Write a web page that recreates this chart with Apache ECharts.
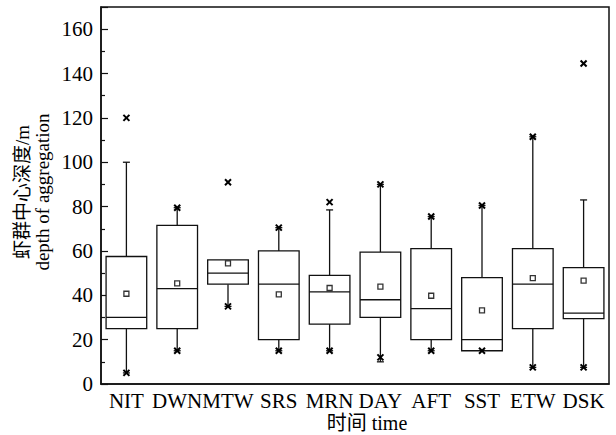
<!DOCTYPE html>
<html>
<head>
<meta charset="utf-8">
<script src="https://cdn.jsdelivr.net/npm/echarts@6/dist/echarts.min.js"></script>
<style>
html,body{margin:0;padding:0;background:#fff;}
#chart{width:616px;height:435px;}
</style>
</head>
<body>
<div id="chart"></div>
<script>
const categories = ['NIT', 'DWN', 'MTW', 'SRS', 'MRN', 'DAY', 'AFT', 'SST', 'ETW', 'DSK'];
const whiskerLow  = [5, 15, 35, 15, 15, 10, 15, 15, 7.5, 7.5];
const q1          = [25, 25, 45, 20, 27, 30, 20, 15, 25, 29.5];
const median      = [30, 43, 50, 45, 41.5, 38, 34, 20, 45, 32];
const q3          = [57.5, 71.5, 56, 60, 49, 59.5, 61, 48, 61, 52.5];
const whiskerHigh = [100, 79.5, 56, 70.5, 78.5, 90, 75.5, 80.5, 111.5, 83];
const meanValues  = [40.7, 45.4, 54.4, 40.4, 43.3, 43.9, 39.8, 33.2, 47.7, 46.6];
const extremeLow  = [5, 15, 35, 15, 15, 12, 15, 15, 7.5, 7.5];
const extremeHigh = [120, 79.5, 91, 70.5, 82, 90, 75.5, 80.5, 111.5, 144.5];
const yTicks = {min: 0, max: 170, interval: 20};

const FONT = "Liberation Serif, Noto Sans CJK SC, serif";

const boxData = categories.map((c, i) => [i, whiskerLow[i], q1[i], median[i], q3[i], whiskerHigh[i]]);
const meanData = categories.map((c, i) => [i, meanValues[i]]);
const extremeData = [];
categories.forEach((c, i) => { extremeData.push([i, extremeLow[i]]); extremeData.push([i, extremeHigh[i]]); });

const chart = echarts.init(document.getElementById('chart'), null, {renderer: 'svg'});
const LW = 1.3;
const CAP = 3.5;

function renderBox(params, api) {
  const i = api.value(0);
  const lo = api.coord([i, api.value(1)]);
  const b1 = api.coord([i, api.value(2)]);
  const md = api.coord([i, api.value(3)]);
  const b3 = api.coord([i, api.value(4)]);
  const hi = api.coord([i, api.value(5)]);
  const hw = api.size([1, 0])[0] * 0.4;
  const cx = lo[0];
  const st = {stroke: '#111', lineWidth: LW, fill: null};
  const children = [];
  if (hi[1] < b3[1] - 0.5) {
    children.push({type: 'line', shape: {x1: cx, y1: b3[1], x2: cx, y2: hi[1]}, style: st});
    children.push({type: 'line', shape: {x1: cx - CAP, y1: hi[1], x2: cx + CAP, y2: hi[1]}, style: st});
  }
  if (lo[1] > b1[1] + 0.5) {
    children.push({type: 'line', shape: {x1: cx, y1: b1[1], x2: cx, y2: lo[1]}, style: st});
    children.push({type: 'line', shape: {x1: cx - CAP, y1: lo[1], x2: cx + CAP, y2: lo[1]}, style: st});
  }
  children.push({type: 'rect', shape: {x: cx - hw, y: b3[1], width: hw * 2, height: b1[1] - b3[1]},
    style: {stroke: '#111', lineWidth: LW, fill: '#fff'}});
  children.push({type: 'line', shape: {x1: cx - hw, y1: md[1], x2: cx + hw, y2: md[1]}, style: st});
  return {type: 'group', children: children};
}

function renderCross(params, api) {
  const p = api.coord([api.value(0), api.value(1)]);
  const s = 3;
  const st = {stroke: '#000', lineWidth: 2, fill: null};
  return {type: 'group', children: [
    {type: 'line', shape: {x1: p[0] - s, y1: p[1] - s, x2: p[0] + s, y2: p[1] + s}, style: st},
    {type: 'line', shape: {x1: p[0] - s, y1: p[1] + s, x2: p[0] + s, y2: p[1] - s}, style: st}
  ]};
}

const option = {
  backgroundColor: '#fff',
  animation: false,
  grid: {left: 101, right: 7, top: 7, bottom: 51, show: true, borderColor: '#111', borderWidth: 1.5, backgroundColor: 'transparent'},
  xAxis: {
    type: 'category',
    data: categories,
    boundaryGap: true,
    axisLine: {lineStyle: {color: '#111', width: 1.5}},
    axisTick: {inside: true, alignWithLabel: true, length: 6, lineStyle: {color: '#111', width: 1.2}},
    axisLabel: {interval: 0, color: '#000', fontFamily: FONT, fontSize: 21, lineHeight: 20, margin: 7},
    splitLine: {show: false}
  },
  yAxis: {
    type: 'value',
    min: yTicks.min, max: yTicks.max, interval: yTicks.interval,
    axisLine: {show: true, lineStyle: {color: '#111', width: 1.5}},
    axisTick: {show: true, inside: true, length: 7, lineStyle: {color: '#111', width: 1.2}},
    minorTick: {show: true, splitNumber: 2, length: 4, lineStyle: {color: '#111', width: 1.2}},
    axisLabel: {color: '#000', fontFamily: FONT, fontSize: 21, margin: 8, showMaxLabel: false,
      formatter: v => (v % 20 === 0 ? String(v) : '')},
    splitLine: {show: false}
  },
  graphic: [
    {type: 'text', x: 22, y: 192, rotation: Math.PI / 2,
      style: {text: '虾群中心深度/m', fontFamily: FONT, fontSize: 19, fill: '#000', align: 'center', verticalAlign: 'middle'}},
    {type: 'text', x: 42, y: 192, rotation: Math.PI / 2,
      style: {text: 'depth of aggregation', fontFamily: FONT, fontSize: 19, fill: '#000', align: 'center', verticalAlign: 'middle'}},
    {type: 'text', x: 367, y: 423,
      style: {text: '时间 time', fontFamily: FONT, fontSize: 20, lineHeight: 20, fill: '#000', align: 'center', verticalAlign: 'middle'}}
  ],
  series: [
    {type: 'custom', name: 'box', data: boxData, renderItem: renderBox, encode: {x: 0, y: [1, 2, 3, 4, 5]}, z: 2},
    {type: 'scatter', name: 'mean', data: meanData, symbol: 'rect', symbolSize: 5,
      itemStyle: {color: '#fff', borderColor: '#000', borderWidth: 1.3}, z: 3},
    {type: 'custom', name: 'extreme', data: extremeData, renderItem: renderCross, encode: {x: 0, y: 1}, z: 4}
  ]
};
chart.setOption(option);
</script>
</body>
</html>
